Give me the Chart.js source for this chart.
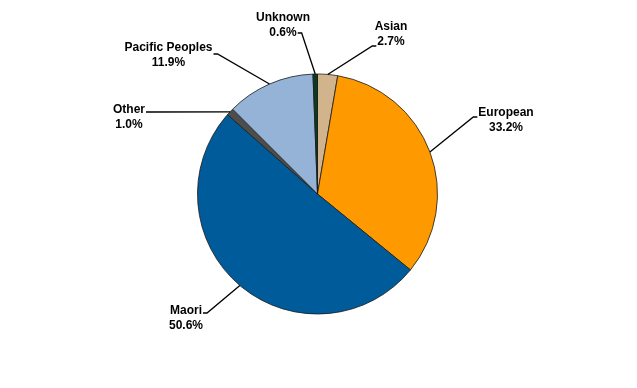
<!DOCTYPE html>
<html>
<head>
<meta charset="utf-8">
<script src="https://cdn.jsdelivr.net/npm/chart.js@4/dist/chart.umd.min.js"></script>
<style>
    html, body { margin: 0; padding: 0; background: #fff; }
    #wrap { width: 637px; height: 388px; position: relative; }
</style>
</head>
<body>
<div id="wrap"><canvas id="pie"></canvas></div>
<script>
// 数据
const categories = ['Asian', 'European', 'Maori', 'Other', 'Pacific Peoples', 'Unknown'];
const shares = [2.7, 33.2, 50.6, 1.0, 11.9, 0.6];
const sliceColors = ['#d2b48c', '#ff9900', '#005b9b', '#4d4d4d', '#94b3d6', '#0a3a1f'];

// 标签位置（相对饼图中心的像素偏移）和引线连接方式
const labelOffsets = [[73.5, -167], [188.5, -81], [-131.5, 117], [-188.5, -84], [-149, -146], [-34.5, -176]];
const labelAttach = [
    { side: 'left', line: 1, dy: 19 },
    { side: 'left', line: 0, dy: 4 },
    { side: 'right', line: 0, dy: 2 },
    { side: 'right', line: 0, dy: 2 },
    { side: 'right', line: 0, dy: 6 },
    { side: 'right', line: 1, dy: 15 }
];

// 标签和引线插件
const leaderLabels = {
    id: 'leaderLabels',
    afterDraw(chart) {
        const ctx = chart.ctx;
        const arcs = chart.getDatasetMeta(0).data;
        ctx.save();
        ctx.font = 'bold 12px "Liberation Sans", Arial, sans-serif';
        ctx.fillStyle = '#000';
        ctx.textAlign = 'center';
        ctx.textBaseline = 'middle';
        ctx.strokeStyle = '#000';
        ctx.lineWidth = 1.3;

        arcs.forEach((arc, i) => {
            const p = arc.getProps(['x', 'y', 'startAngle', 'endAngle', 'outerRadius'], true);
            const mid = (p.startAngle + p.endAngle) / 2;
            const ex = p.x + Math.cos(mid) * p.outerRadius;
            const ey = p.y + Math.sin(mid) * p.outerRadius;

            const lx = p.x + labelOffsets[i][0];
            const ly = p.y + labelOffsets[i][1];
            const lines = [categories[i], shares[i].toFixed(1) + '%'];
            ctx.fillText(lines[0], lx, ly);
            ctx.fillText(lines[1], lx, ly + 15);

            const a = labelAttach[i];
            const w = ctx.measureText(lines[a.line]).width;
            const ay = ly + a.dy;
            let ax, kx;
            if (a.side === 'right') {
                ax = lx + w / 2 + 1;
                kx = ax + 4;
            } else {
                ax = lx - w / 2 - 1;
                kx = ax - 4;
            }
            ctx.beginPath();
            ctx.moveTo(ax, ay);
            ctx.lineTo(kx, ay);
            ctx.lineTo(ex, ey);
            ctx.stroke();
        });
        ctx.restore();
    }
};

new Chart(document.getElementById('pie'), {
    type: 'pie',
    data: {
        labels: categories,
        datasets: [{
            data: shares,
            backgroundColor: sliceColors,
            borderColor: '#1a1a1a',
            borderWidth: 0.8
        }]
    },
    options: {
        responsive: true,
        maintainAspectRatio: false,
        animation: false,
        radius: 120,
        layout: { padding: { right: 2 } },
        plugins: {
            legend: { display: false },
            tooltip: { enabled: false }
        }
    },
    plugins: [leaderLabels]
});
</script>
</body>
</html>
